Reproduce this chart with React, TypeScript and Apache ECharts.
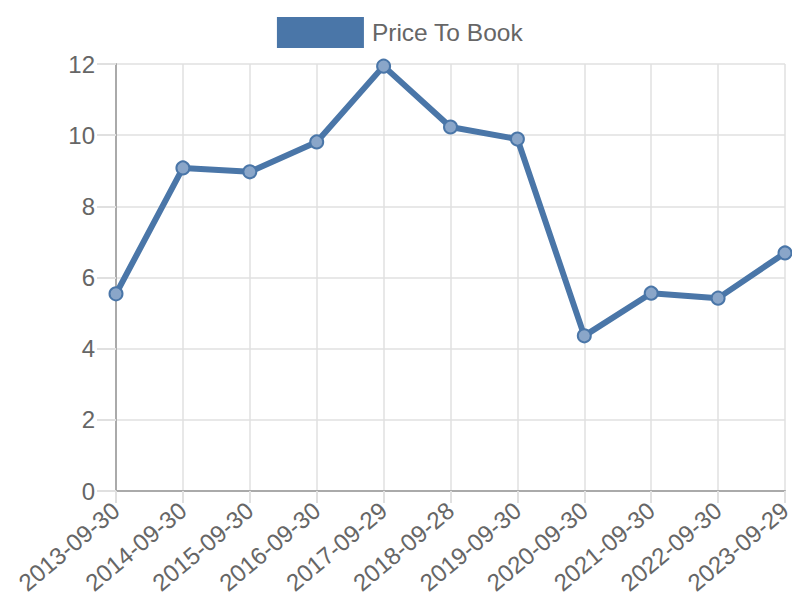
import React, { useEffect, useRef } from "react";
import * as echarts from "echarts";

const categories = [
  "2013-09-30", "2014-09-30", "2015-09-30", "2016-09-30", "2017-09-29",
  "2018-09-28", "2019-09-30", "2020-09-30", "2021-09-30", "2022-09-30", "2023-09-29",
];
const priceToBook = [5.54, 9.08, 8.97, 9.81, 11.94, 10.23, 9.89, 4.36, 5.56, 5.42, 6.69];
const seriesName = "Price To Book";

const FONT = "Liberation Sans, Arial, Helvetica, sans-serif";

export default function App() {
  const ref = useRef<HTMLDivElement>(null);
  useEffect(() => {
    if (!ref.current) return;
    const chart = echarts.init(ref.current, undefined, { renderer: "svg" });
    chart.setOption({
      animation: false,
      legend: {
        top: 17,
        left: "center",
        padding: 0,
        itemWidth: 85,
        itemHeight: 29,
        itemGap: 10,
        icon: "rect",
        textStyle: { fontSize: 24.5, color: "#666", fontFamily: FONT, padding: [0, 0, 0, 4] },
        data: [{ name: seriesName, itemStyle: { color: "#4a76a8" } }],
      },
      grid: { left: 116, right: 15, top: 64, bottom: 109, containLabel: false },
      xAxis: {
        type: "category",
        data: categories,
        boundaryGap: false,
        axisLine: { show: true, lineStyle: { color: "#aaa", width: 2 } },
        axisTick: { show: true, length: 12, lineStyle: { color: "#e0e0e0", width: 2 } },
        splitLine: { show: true, lineStyle: { color: "#e0e0e0", width: 1.5 } },
        axisLabel: {
          rotate: 40,
          fontSize: 24,
          color: "#666",
          fontFamily: FONT,
          margin: 16,
          interval: 0,
        },
      },
      yAxis: {
        type: "value",
        min: 0,
        max: 12,
        interval: 2,
        axisLine: { show: true, lineStyle: { color: "#aaa", width: 2 } },
        axisTick: { show: true, length: 19, lineStyle: { color: "#e0e0e0", width: 2 } },
        splitLine: { show: true, lineStyle: { color: "#e0e0e0", width: 1.5 } },
        axisLabel: { fontSize: 24, color: "#666", fontFamily: FONT, margin: 21 },
      },
      series: [
        {
          name: seriesName,
          type: "line",
          data: priceToBook,
          symbol: "circle",
          symbolSize: 13,
          lineStyle: { color: "#4a76a8", width: 6 },
          itemStyle: { color: "#8aa6c9", borderColor: "#4a76a8", borderWidth: 2 },
        },
      ],
    });
    return () => chart.dispose();
  }, []);
  return <div ref={ref} style={{ width: 800, height: 600, margin: -8 }} />;
}
